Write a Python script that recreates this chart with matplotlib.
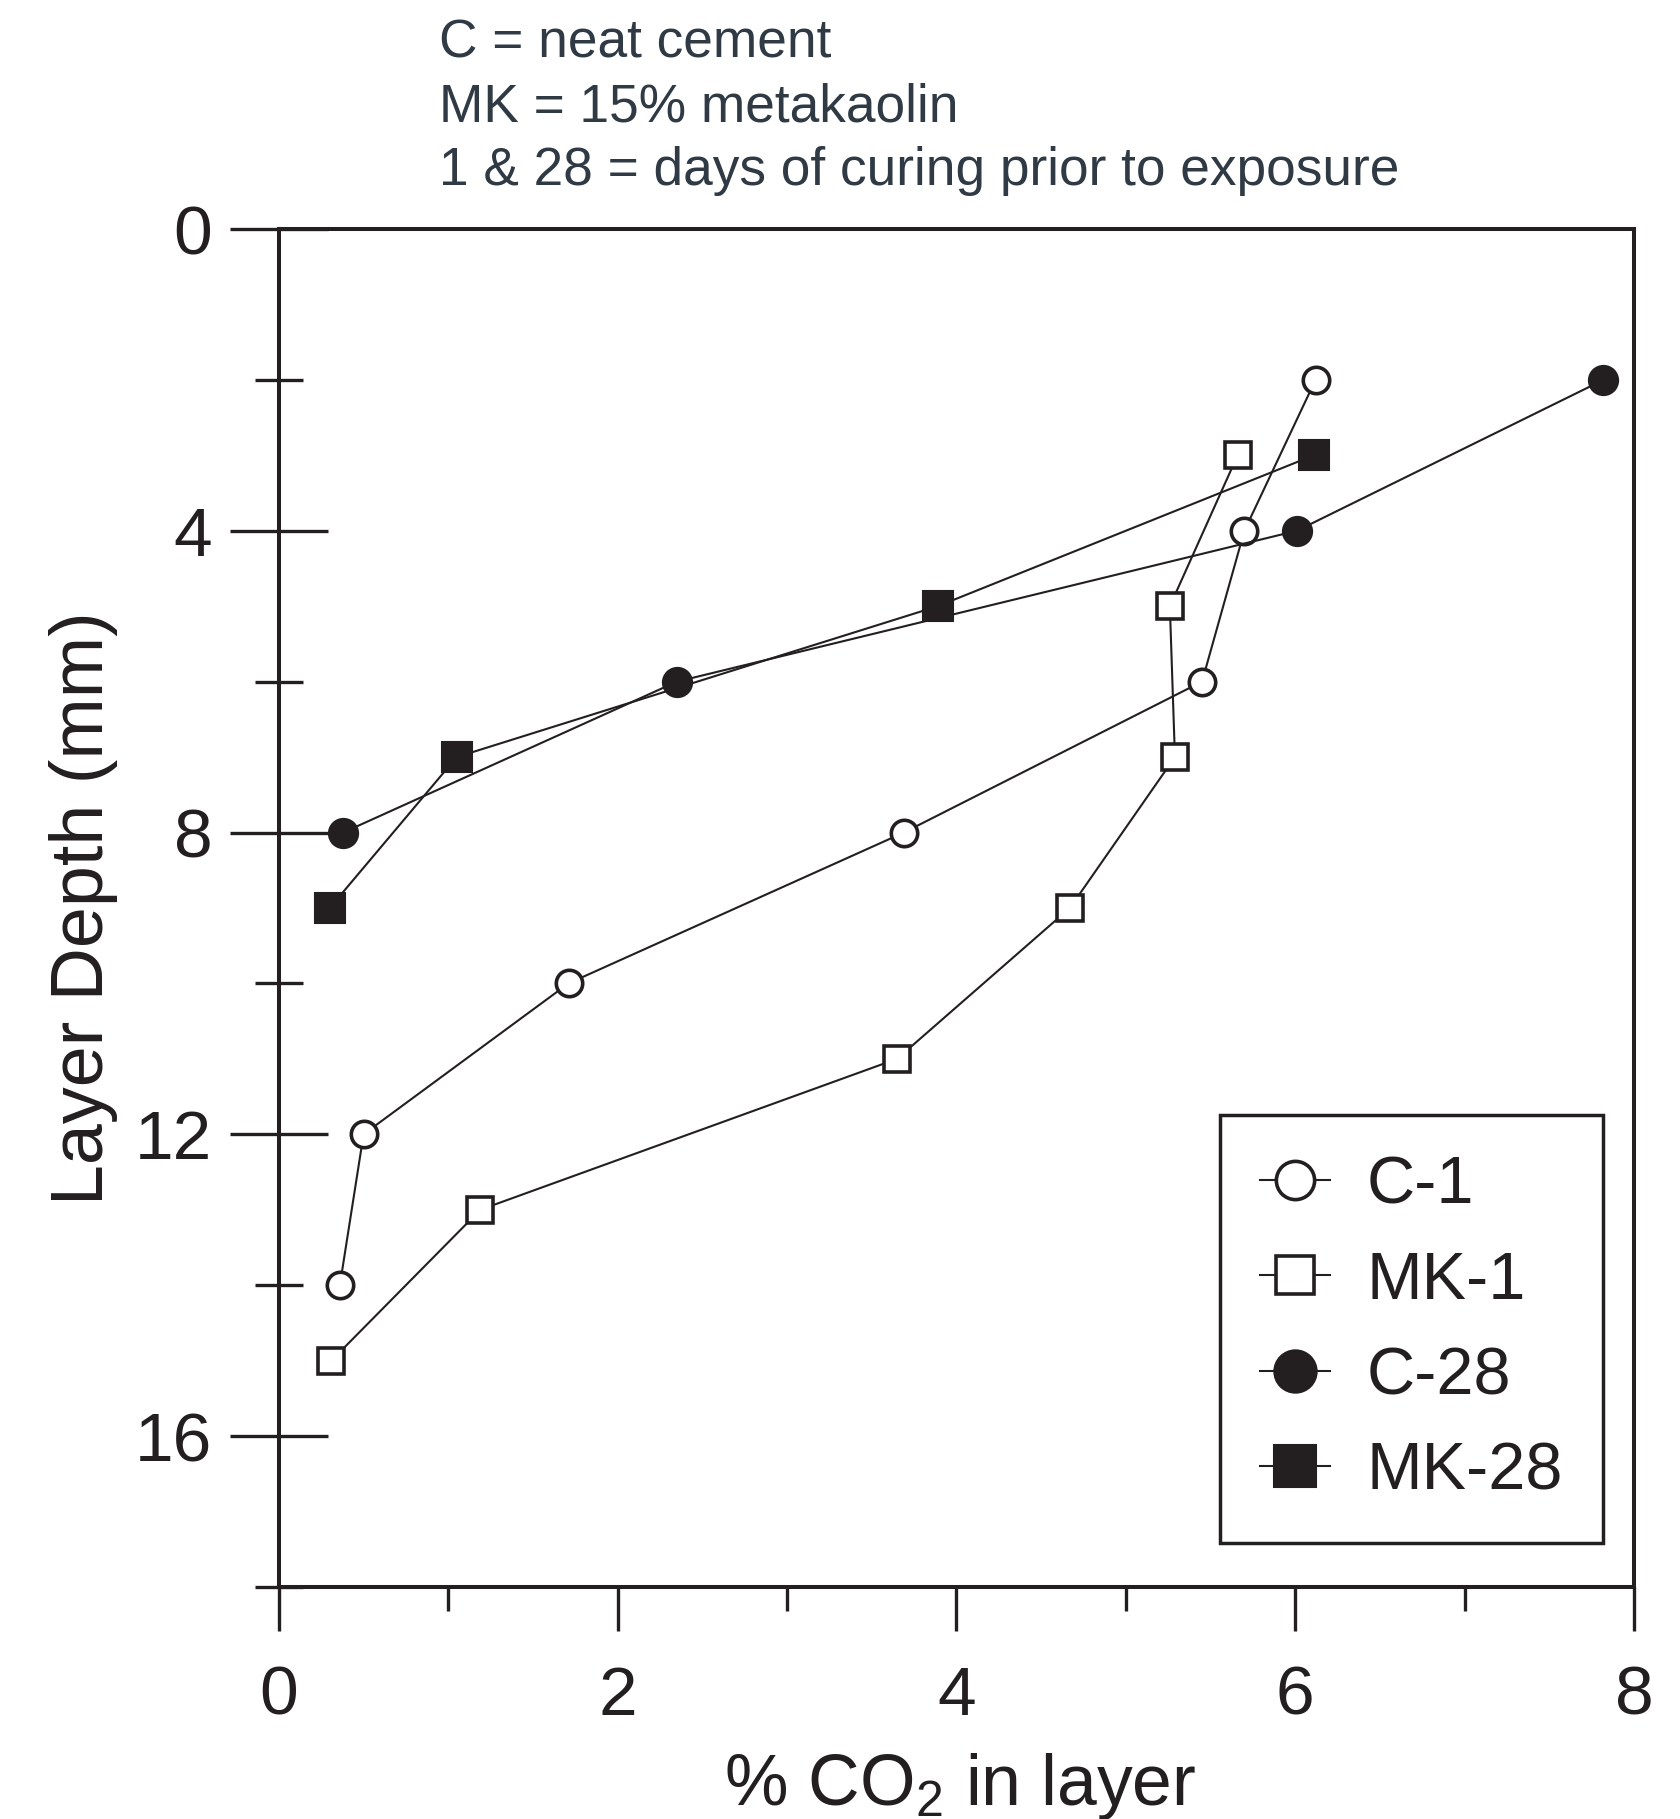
# -*- coding: UTF-8 -*-
import numpy as np
from matplotlib import pyplot as plt

plt.rcParams['font.family'] = ['Liberation Sans', 'DejaVu Sans']
plt.rcParams['mathtext.fontset'] = 'custom'
plt.rcParams['mathtext.rm'] = 'Liberation Sans'

INK = '#231f20'

# % CO2 in layer vs layer depth (mm)
c1_x = [6.12, 5.70, 5.45, 3.69, 1.71, 0.50, 0.36]
c1_y = [2, 4, 6, 8, 10, 12, 14]
mk1_x = [5.66, 5.26, 5.29, 4.67, 3.65, 1.19, 0.31]
mk1_y = [3, 5, 7, 9, 11, 13, 15]
c28_x = [7.82, 6.01, 2.35, 0.38]
c28_y = [2, 4, 6, 8]
mk28_x = [6.11, 3.89, 1.05, 0.30]
mk28_y = [3, 5, 7, 9]

notes = ['C = neat cement',
         'MK = 15% metakaolin',
         '1 & 28 = days of curing prior to exposure']

xticks = [0, 2, 4, 6, 8]
yticks = [0, 4, 8, 12, 16]

fig = plt.figure(figsize=(16.8, 18.19), dpi=100)
ax = fig.add_axes([0.166, 0.1276, 0.8066, 0.7465])

def series(x, y, marker, filled, label, ms):
  face = INK if filled else 'white'
  mew = 1.5 if filled else 2.6
  return ax.plot(x, y, '-', color=INK, linewidth=1.5, marker=marker,
                 markersize=ms, markerfacecolor=face, markeredgecolor=INK,
                 markeredgewidth=mew, label=label, zorder=3)

series(c1_x, c1_y, 'o', False, 'C-1', 19)
series(mk1_x, mk1_y, 's', False, 'MK-1', 19)
series(c28_x, c28_y, 'o', True, 'C-28', 21)
series(mk28_x, mk28_y, 's', True, 'MK-28', 21)

ax.set_xlim(0, 8)
ax.set_ylim(18, 0)
ax.set_xticks(xticks)
ax.set_xticks([1, 3, 5, 7], minor=True)
ax.set_yticks(yticks)
ax.set_yticks([2, 6, 10, 14, 18], minor=True)

for s in ax.spines.values():
  s.set_linewidth(2.9)
  s.set_color(INK)

ax.tick_params(axis='y', which='major', direction='inout', length=70,
               width=2.4, color=INK, labelsize=50, labelcolor=INK, pad=13)
ax.tick_params(axis='y', which='minor', direction='inout', length=34,
               width=2.4, color=INK)
ax.tick_params(axis='x', which='major', direction='out', length=32,
               width=2.4, color=INK, labelsize=50, labelcolor=INK, pad=24)
ax.tick_params(axis='x', which='minor', direction='out', length=17,
               width=2.4, color=INK)

fig.text(84 / 1680, 1 - 908 / 1819, 'Layer Depth (mm)', rotation=90,
         ha='center', va='center', fontsize=53, color=INK)
fig.text(960 / 1680, 1 - 1805 / 1819, '% CO$_\\mathrm{2}$ in layer',
         ha='center', va='baseline', fontsize=51.5, color=INK)

for i, t in enumerate(notes):
  fig.text(439 / 1680, 1 - (57 + 64 * i) / 1819, t, ha='left',
           va='baseline', fontsize=38.3, color='#2f3a44')

leg = ax.legend(loc='lower right', bbox_to_anchor=(0.977, 0.032),
                borderaxespad=0, fontsize=48, frameon=True, fancybox=False,
                framealpha=1, edgecolor=INK, handlelength=1.05,
                handletextpad=0.55, labelspacing=0.5, borderpad=0.6,
                markerscale=1.45)
leg.get_frame().set_linewidth(2.5)
for t in leg.get_texts():
  t.set_color(INK)

fig.savefig('out.png', dpi=100)
